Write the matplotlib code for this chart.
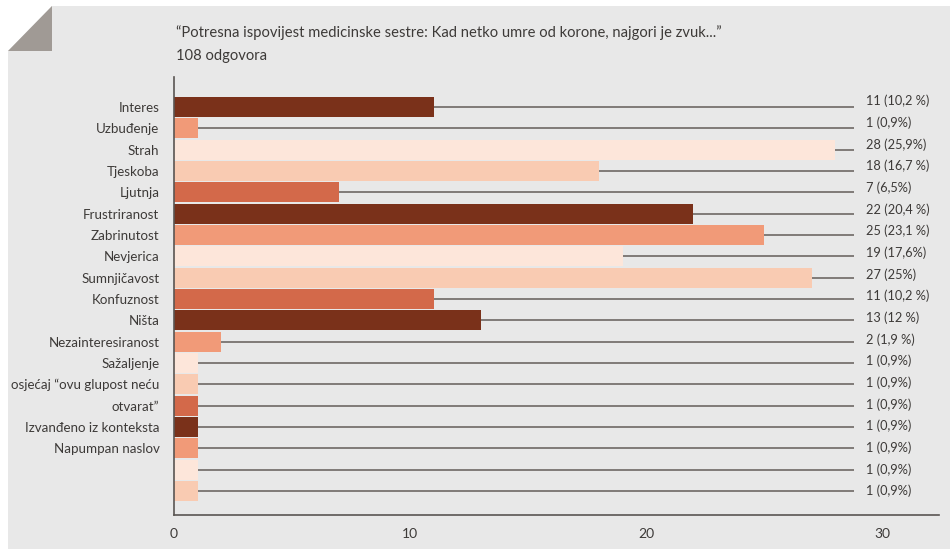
import matplotlib.pyplot as plt
from matplotlib.patches import Polygon

# survey answers (number of responses per bar)
values = [11, 1, 28, 18, 7, 22, 25, 19, 27, 11, 13, 2, 1, 1, 1, 1, 1, 1, 1]
value_labels = ["11 (10,2 %)", "1 (0,9%)", "28 (25,9%)", "18 (16,7 %)", "7 (6,5%)",
                "22 (20,4 %)", "25 (23,1 %)", "19 (17,6%)", "27 (25%)", "11 (10,2 %)",
                "13 (12 %)", "2 (1,9 %)", "1 (0,9%)", "1 (0,9%)", "1 (0,9%)",
                "1 (0,9%)", "1 (0,9%)", "1 (0,9%)", "1 (0,9%)"]
tick_labels = ["Interes", "Uzbuđenje", "Strah", "Tjeskoba", "Ljutnja", "Frustriranost",
               "Zabrinutost", "Nevjerica", "Sumnjičavost", "Konfuznost", "Ništa",
               "Nezainteresiranost", "Sažaljenje", "osjećaj “ovu glupost neću",
               "otvarat”", "Izvanđeno iz konteksta", "Napumpan naslov"]
palette = ["#7a311a", "#f19a78", "#fde6da", "#f9cbb2", "#d3694a"]

title = "“Potresna ispovijest medicinske sestre: Kad netko umre od korone, najgori je zvuk...”"
subtitle = "108 odgovora"

plt.rcParams['font.family'] = ['Lato', 'DejaVu Sans']
text_color = "#3d3a38"

fig = plt.figure(figsize=(9.5, 5.49), dpi=100, facecolor="white")
W, H = 950, 549

# grey card with a folded corner
card = Polygon([(8 / W, 1 - 51 / H), (52 / W, 1 - 6 / H), (1, 1 - 6 / H), (1, 0), (8 / W, 0)],
               closed=True, transform=fig.transFigure, facecolor="#e8e8e8", edgecolor="none", zorder=-2)
fold = Polygon([(8 / W, 1 - 51 / H), (52 / W, 1 - 6 / H), (52 / W, 1 - 51 / H)],
               closed=True, transform=fig.transFigure, facecolor="#a09a95", edgecolor="none", zorder=-1)
fig.patches.extend([card, fold])

fig.text(176 / W, 1 - 33 / H, title, fontsize=10.6, color=text_color, va="center", ha="left")
fig.text(176 / W, 1 - 56 / H, subtitle, fontsize=10.6, color=text_color, va="center", ha="left")

ax = fig.add_axes([174 / W, 34 / H, (939 - 174) / W, (515 - 77) / H])
ax.set_facecolor("none")

n = len(values)
ypos = list(range(n))
colors = [palette[i % len(palette)] for i in range(n)]

ax.hlines(ypos, 0, 28.8, color="#6e6864", linewidth=1.2, zorder=1)
ax.barh(ypos, values, height=0.94, color=colors, zorder=2)

for i, lab in enumerate(value_labels):
    ax.text(29.3, i - 0.28 * (1 - i / (n - 1)), lab, fontsize=9.2, color=text_color,
            va="center", ha="left")

ax.set_xlim(0, 32.4)
ax.set_ylim(19.13, -1.41)
ax.set_yticks(range(len(tick_labels)))
ax.set_yticklabels(tick_labels, fontsize=9.6, color=text_color)
ax.set_xticks([0, 10, 20, 30])
ax.set_xticklabels(["0", "10", "20", "30"], fontsize=10, color=text_color)
ax.tick_params(axis="y", length=0, pad=10.5)
ax.tick_params(axis="x", length=0, pad=9)

for side in ["top", "right"]:
    ax.spines[side].set_visible(False)
for side in ["left", "bottom"]:
    ax.spines[side].set_color("#5a5552")
    ax.spines[side].set_linewidth(1.2)

fig.savefig("out.png", dpi=100, facecolor="white")
